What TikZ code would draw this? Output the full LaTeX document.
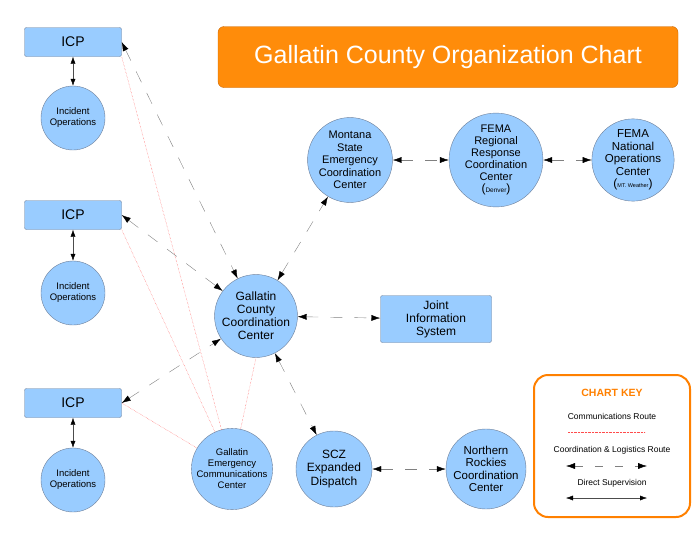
\documentclass[tikz,border=0pt]{standalone}
\usepackage{fontspec}
\setmainfont{Liberation Sans}
\usetikzlibrary{arrows.meta}
\definecolor{nodefill}{HTML}{99CCFF}
\definecolor{nodeline}{HTML}{6D7F99}
\definecolor{titlefill}{HTML}{FF8C0A}
\begin{document}
\begin{tikzpicture}[x=1pt,y=-1pt,font=\fontsize{9.5}{11}\selectfont]
\tikzstyle{unit}=[rectangle,rounded corners=2pt,draw=nodeline,fill=nodefill,minimum width=97pt,minimum height=29pt,align=center]
\tikzstyle{centre}=[circle,draw=nodeline,fill=nodefill,align=center,inner sep=0pt]
\tikzstyle{coord}=[gray,dash pattern=on 12pt off 12pt,{Latex[length=9pt,width=6pt,black]}-{Latex[length=9pt,width=6pt,black]}]
\tikzstyle{super}=[black!70,{Latex[length=7pt,width=5pt,black]}-{Latex[length=7pt,width=5pt,black]}]
\tikzstyle{comms}=[red!70,densely dotted,thin]
\useasboundingbox (0,0) rectangle (700,541);
% title
\node [rectangle,rounded corners=6pt,draw=orange!80!black,fill=titlefill,minimum width=460pt,minimum height=61pt,text=white,font=\fontsize{25}{27}\selectfont] (title) at (448,57) {Gallatin County Organization Chart};
% incident command posts
\node [unit,font=\fontsize{14}{15}\selectfont] (icpa) at (73,42) {ICP};
\node [centre,minimum size=64pt] (opsa) at (73,118) {Incident\\Operations};
\node [unit,font=\fontsize{14}{15}\selectfont] (icpb) at (73,215) {ICP};
\node [centre,minimum size=64pt] (opsb) at (73,293) {Incident\\Operations};
\node [unit,font=\fontsize{14}{15}\selectfont] (icpc) at (73,403) {ICP};
\node [centre,minimum size=64pt] (opsc) at (73,480) {Incident\\Operations};
% coordination centres
\node [centre,minimum size=76pt,font=\fontsize{11}{12.5}\selectfont] (mt) at (350,160) {Montana\\State\\Emergency\\Coordination\\Center};
\node [centre,minimum size=84pt,font=\fontsize{11}{12}\selectfont] (fr) at (496,160) {FEMA\\Regional\\Response\\Coordination\\Center\\{\large(}{\fontsize{6.5}{7}\selectfont Denver}{\large)}};
\node [centre,minimum size=80pt,font=\fontsize{11.5}{12.5}\selectfont] (fn) at (633,160) {FEMA\\National\\Operations\\Center\\{\large(}{\fontsize{5.5}{7}\selectfont MT. Weather}{\large)}};
\node [centre,minimum size=80pt,font=\fontsize{12}{13}\selectfont] (gc) at (256,316) {Gallatin\\County\\Coordination\\Center};
\node [unit,minimum width=111pt,minimum height=47pt,font=\fontsize{12}{13}\selectfont] (jis) at (436,319) {Joint\\Information\\System};
\node [centre,minimum size=80pt] (ec) at (232,469) {Gallatin\\Emergency\\Communications\\Center};
\node [centre,minimum size=76pt,font=\fontsize{12}{13.5}\selectfont] (scz) at (334,469) {SCZ\\Expanded\\Dispatch};
\node [centre,minimum size=80pt,font=\fontsize{11.5}{12.5}\selectfont] (nr) at (486,469) {Northern\\Rockies\\Coordination\\Center};
% communications
\draw [comms] (ec) -- (icpa.south east);
\draw [comms] (ec) -- (icpb.south east);
\draw [comms] (ec) -- (icpc.east);
\draw [comms] (ec) -- (gc.south);
% supervision
\draw [super] (icpa) -- (opsa);
\draw [super] (icpb) -- (opsb);
\draw [super] (icpc) -- (opsc);
% coordination and logistics
\draw [coord] (icpa.east) -- (gc);
\draw [coord] (icpb.east) -- (gc);
\draw [coord] (icpc.east) -- (gc);
\draw [coord] (gc) -- (mt);
\draw [coord] (mt) -- (fr);
\draw [coord] (fr) -- (fn);
\draw [coord] (gc) -- (jis);
\draw [coord] (gc) -- (scz);
\draw [coord] (scz) -- (nr);
% chart key
\node [rectangle,rounded corners=14pt,draw=orange,line width=2pt,minimum width=156pt,minimum height=142pt] (key) at (612,446) {};
\node [text=orange,font=\bfseries\fontsize{10.5}{12}\selectfont] (keyt) at (612,393) {CHART KEY};
\node [font=\fontsize{8.5}{10}\selectfont] (keya) at (612,416) {Communications Route};
\coordinate (ka1) at (568,432); \coordinate (ka2) at (645,432);
\draw [comms] (ka1) -- (ka2);
\node [font=\fontsize{8.5}{10}\selectfont] (keyb) at (612,450) {Coordination \& Logistics Route};
\coordinate (kb1) at (566,466); \coordinate (kb2) at (647,466);
\draw [coord,dash pattern=on 8pt off 12pt] (kb1) -- (kb2);
\node [font=\fontsize{8.5}{10}\selectfont] (keyc) at (612,483) {Direct Supervision};
\coordinate (kc1) at (566,498); \coordinate (kc2) at (647,498);
\draw [super] (kc1) -- (kc2);
\end{tikzpicture}
\end{document}
